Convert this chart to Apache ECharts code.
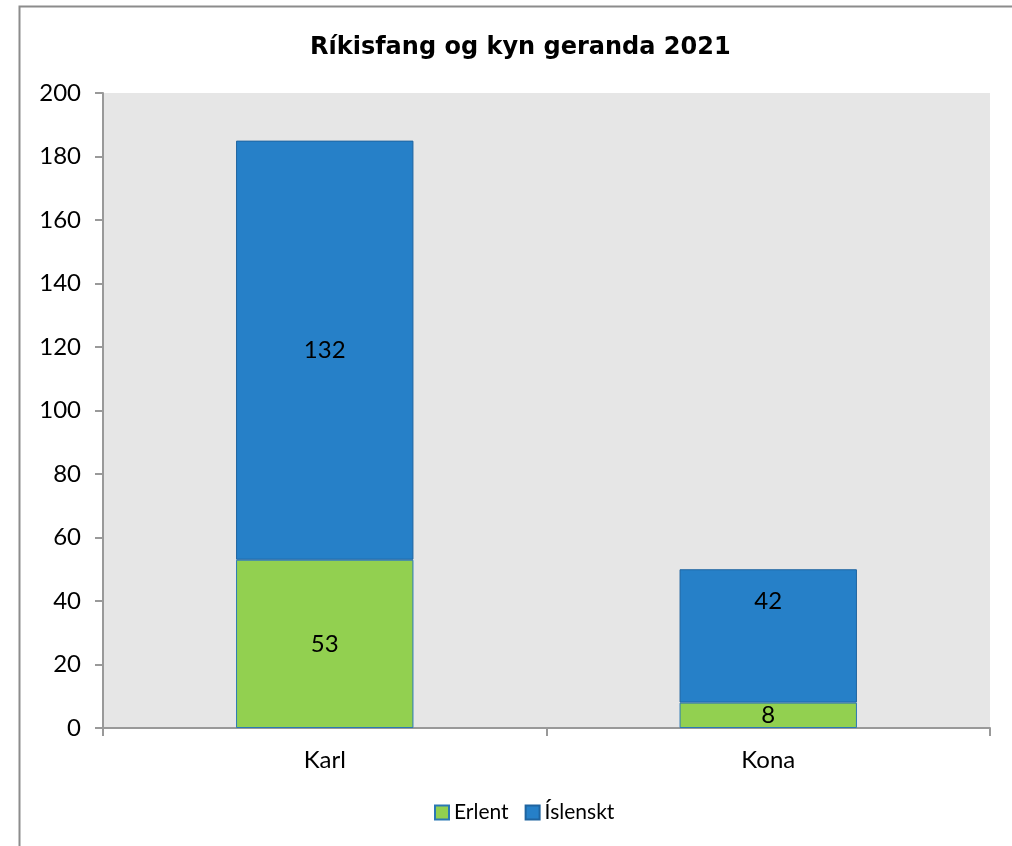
<!DOCTYPE html>
<html>
<head>
<meta charset="utf-8">
<script src="https://cdn.jsdelivr.net/npm/echarts@6/dist/echarts.min.js"></script>
<style>
html,body{margin:0;padding:0;background:#fff;}
#chart{width:1012px;height:846px;}
</style>
</head>
<body>
<div id="chart"></div>
<script>
const titleText = 'Ríkisfang og kyn geranda 2021';
const categories = ['Karl', 'Kona'];
const seriesNames = ['Erlent', 'Íslenskt'];
const erlent = [53, 8];
const islenskt = [132, 42];
const yTicks = {min: 0, max: 200, interval: 20};

const chart = echarts.init(document.getElementById('chart'));
const font = 'Lato, "Open Sans", sans-serif';
const labelStyle = {show: true, position: 'inside', fontFamily: font, fontSize: 24, color: '#000'};
// Excel placed the small Kona label near the top of its segment
const islensktData = islenskt.map((v, i) => i === 1
  ? {value: v, label: {position: 'insideTop', distance: 20}}
  : v);
chart.setOption({
  animation: false,
  backgroundColor: '#ffffff',
  graphic: [{
    type: 'rect', silent: true, z: -10,
    shape: {x: 19.5, y: 6.5, width: 1100, height: 900},
    style: {fill: 'none', stroke: '#8c8c8c', lineWidth: 2}
  }],
  title: {
    text: titleText, left: 305, top: 31,
    textStyle: {fontFamily: '"DejaVu Sans", sans-serif', fontWeight: 'bold', fontSize: 24, color: '#000'}
  },
  legend: {
    bottom: 18, left: 429, itemWidth: 14, itemHeight: 14, itemGap: 16,
    icon: 'rect',
    textStyle: {fontFamily: font, fontSize: 21, color: '#000'},
    data: seriesNames
  },
  grid: {left: 103, top: 93, width: 887, height: 635, show: true, backgroundColor: '#e6e6e6', borderWidth: 0},
  xAxis: {
    type: 'category', data: categories,
    axisLine: {lineStyle: {color: '#999', width: 2}},
    axisTick: {show: true, length: 8, lineStyle: {color: '#999', width: 2}},
    axisLabel: {fontFamily: font, fontSize: 24, color: '#000', margin: 20}
  },
  yAxis: {
    type: 'value', min: yTicks.min, max: yTicks.max, interval: yTicks.interval,
    axisLine: {show: true, lineStyle: {color: '#999', width: 2}},
    axisTick: {show: true, length: 8, lineStyle: {color: '#999', width: 2}},
    splitLine: {show: false},
    axisLabel: {fontFamily: font, fontSize: 24, color: '#000', margin: 22}
  },
  series: [
    {
      name: seriesNames[0], type: 'bar', stack: 'a', data: erlent, barWidth: '40%',
      itemStyle: {color: '#92d050', borderColor: '#2a78b4', borderWidth: 1},
      label: labelStyle
    },
    {
      name: seriesNames[1], type: 'bar', stack: 'a', data: islensktData, barWidth: '40%',
      itemStyle: {color: '#2680c8', borderColor: '#1f64a0', borderWidth: 1},
      label: labelStyle
    }
  ]
});
</script>
</body>
</html>
